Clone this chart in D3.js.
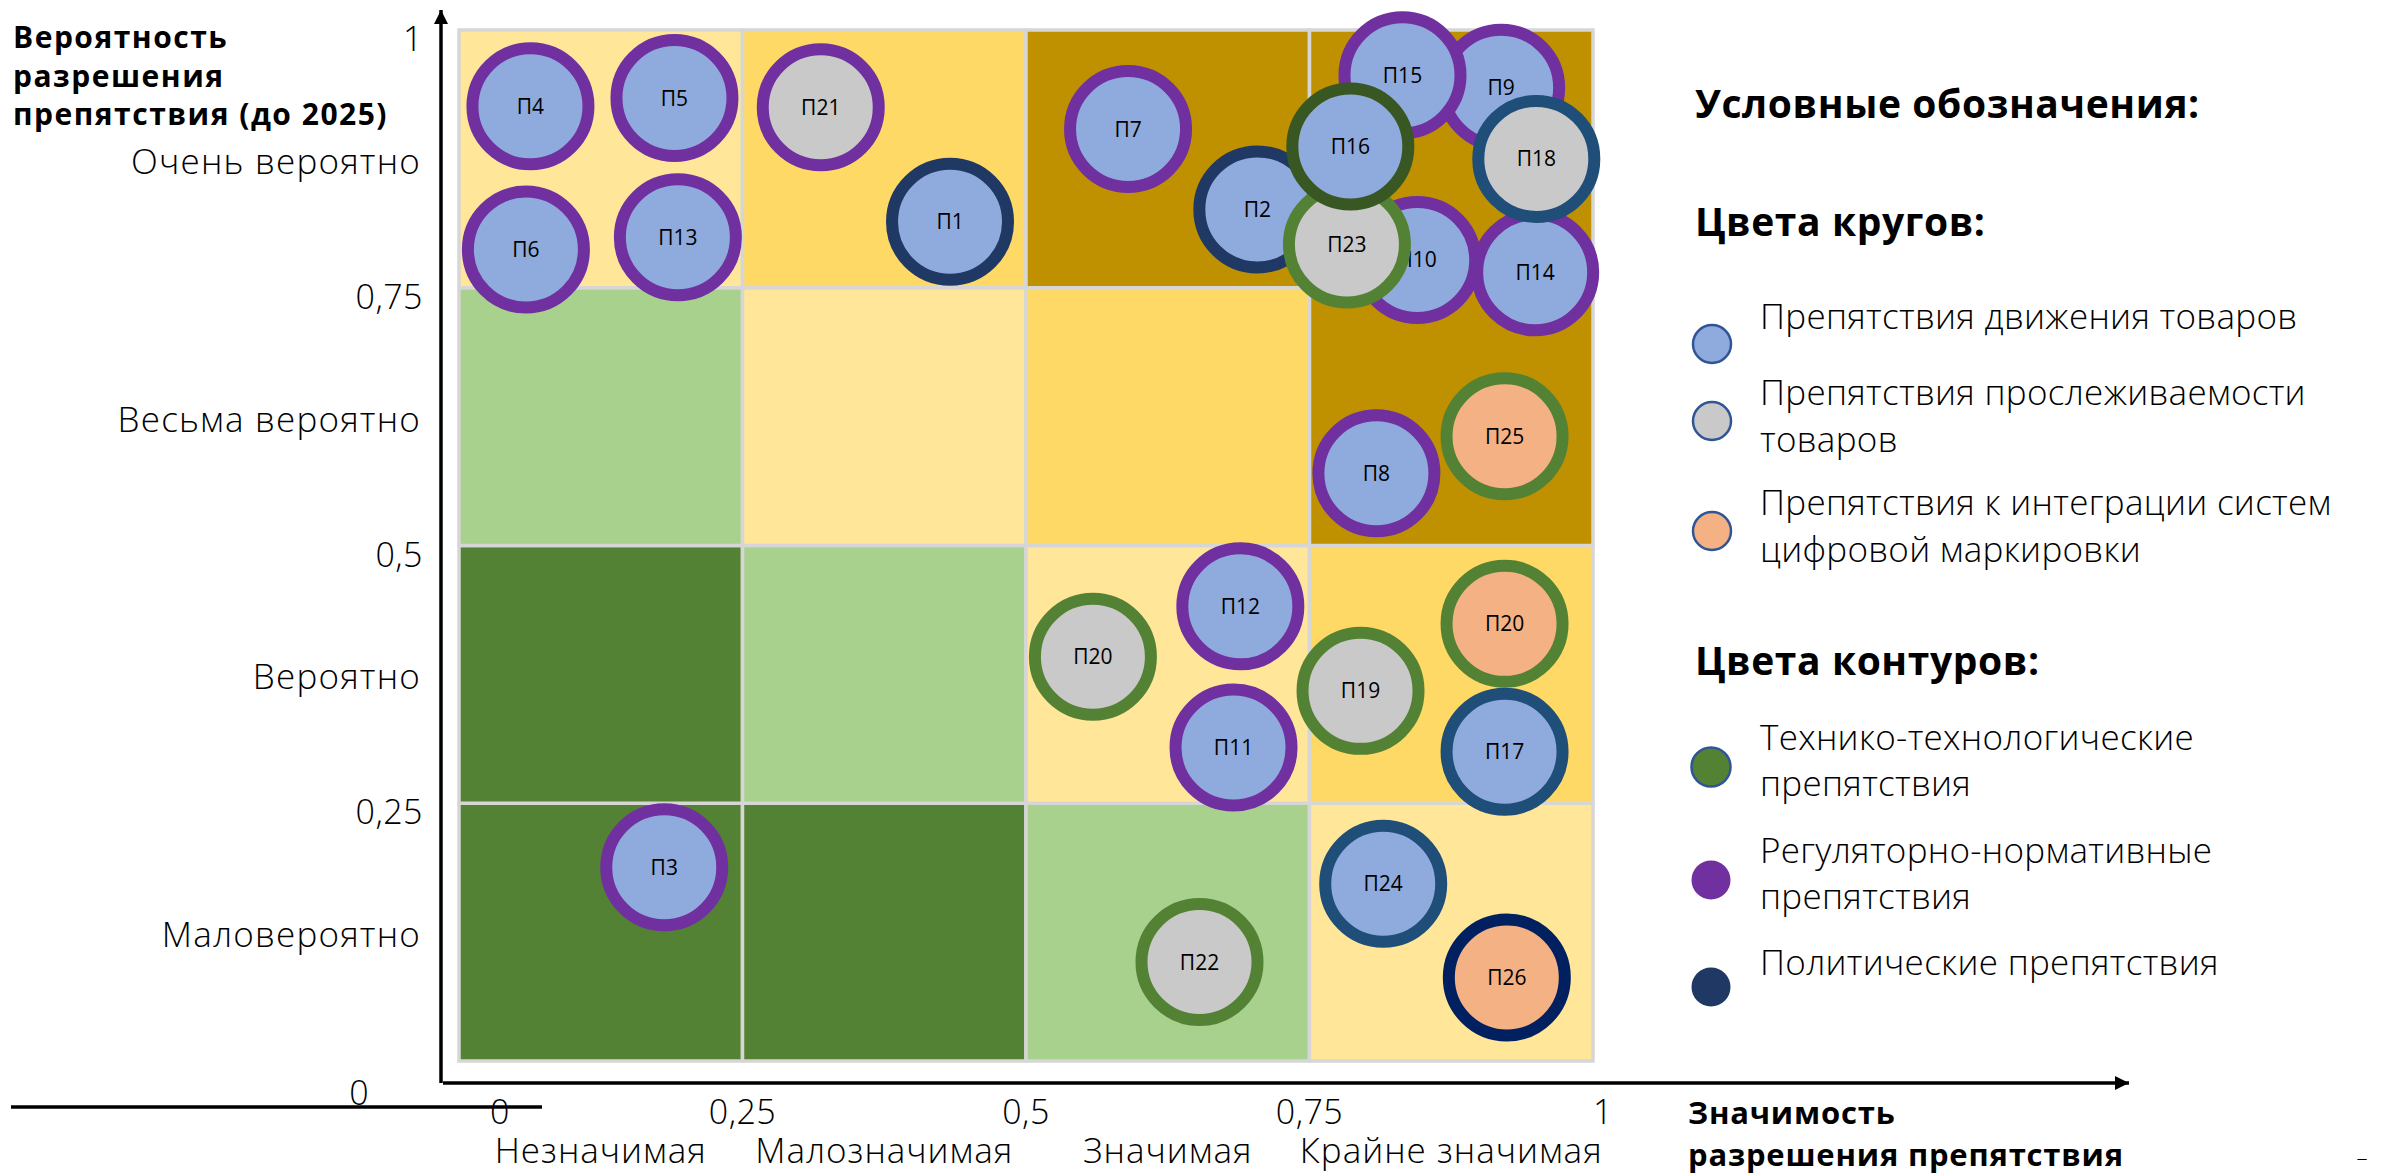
<!DOCTYPE html>
<html lang="ru">
<head>
<meta charset="utf-8">
<script src="https://cdn.jsdelivr.net/npm/d3@7"></script>
<style>
  html, body { margin: 0; padding: 0; background: #fff; }
  svg { display: block; }
  .thin { font-family: "Open Sans", "Lato", sans-serif; font-weight: 300; fill: #000; }
  .bold { font-family: "Open Sans", "Noto Sans", sans-serif; font-weight: 700; fill: #000; }
  .dot-label { font-family: "Open Sans", sans-serif; font-size: 21px; fill: #000; }
</style>
</head>
<body>
<svg id="chart" width="2381" height="1173"></svg>
<script>
// --- data ---
const rowLabels = ["Маловероятно", "Вероятно", "Весьма вероятно", "Очень вероятно"];
const colLabels = ["Незначимая", "Малозначимая", "Значимая", "Крайне значимая"];
const tickValues = [0, 0.25, 0.5, 0.75, 1];

// cell zone per row (bottom -> top), per column (left -> right)
const zones = [
  ["dg", "dg", "lg", "ly"],
  ["dg", "lg", "ly", "yl"],
  ["lg", "ly", "yl", "gd"],
  ["ly", "yl", "gd", "gd"]
];

// obstacles, in drawing order
const ids          = ["П4", "П5", "П6", "П13", "П21", "П1", "П7", "П2", "П10", "П23", "П9", "П15", "П16", "П14", "П18",
                      "П8", "П25", "П12", "П20", "П11", "П19", "П20", "П17", "П3", "П22", "П24", "П26"];
const significance = [0.063, 0.190, 0.059, 0.193, 0.319, 0.433, 0.590, 0.704, 0.845, 0.783, 0.919, 0.832, 0.786, 0.949, 0.950,
                      0.809, 0.922, 0.689, 0.559, 0.683, 0.795, 0.922, 0.922, 0.181, 0.653, 0.815, 0.924];
const probability  = [0.926, 0.934, 0.787, 0.799, 0.925, 0.814, 0.904, 0.826, 0.777, 0.792, 0.944, 0.956, 0.887, 0.765, 0.875,
                      0.570, 0.606, 0.441, 0.392, 0.304, 0.359, 0.424, 0.300, 0.188, 0.096, 0.172, 0.081];
const fillType     = ["move", "move", "move", "move", "trace", "move", "move", "move", "move", "trace", "move", "move", "move", "move", "trace",
                      "move", "integ", "move", "trace", "move", "trace", "integ", "move", "move", "trace", "move", "integ"];
const outlineType  = ["reg", "reg", "reg", "reg", "reg", "pol", "reg", "pol", "reg", "tech", "reg", "reg", "techDark", "reg", "polBlue",
                      "reg", "tech", "reg", "tech", "reg", "tech", "tech", "polBlue", "reg", "tech", "polBlue", "polNavy"];

const fillLegend = [
  { key: "move",  lines: ["Препятствия движения товаров"] },
  { key: "trace", lines: ["Препятствия прослеживаемости", "товаров"] },
  { key: "integ", lines: ["Препятствия к интеграции систем", "цифровой маркировки"] }
];
const outlineLegend = [
  { key: "tech", lines: ["Технико-технологические", "препятствия"] },
  { key: "reg",  lines: ["Регуляторно-нормативные", "препятствия"] },
  { key: "pol",  lines: ["Политические препятствия"] }
];

// --- styles ---
const zoneColor = { dg: "#548235", lg: "#A9D18E", ly: "#FFE699", yl: "#FFD966", gd: "#BF9000" };
const fillColor = { move: "#8FAADC", trace: "#C9C9C9", integ: "#F4B183" };
const outlineColor = {
  reg: "#7030A0", pol: "#203864", tech: "#548235",
  techDark: "#385723", polBlue: "#1F4E79", polNavy: "#002060"
};

const svg = d3.select("#chart");

const x = d3.scaleLinear().domain([0, 1]).range([459, 1593]);
const y = d3.scaleLinear().domain([0, 1]).range([1061, 30]);
const fmt = d => String(d).replace(".", ",");

// arrow marker
svg.append("defs").append("marker")
  .attr("id", "arrow")
  .attr("viewBox", "0 0 10 10")
  .attr("refX", 10).attr("refY", 5)
  .attr("markerWidth", 4).attr("markerHeight", 4.2)
  .attr("markerUnits", "strokeWidth")
  .attr("orient", "auto")
  .append("path").attr("d", "M0,0L10,5L0,10Z").attr("fill", "#000");

// --- cells ---
const cells = [];
zones.forEach((row, r) => row.forEach((z, c) => cells.push({ r, c, z })));

svg.append("g")
  .selectAll("rect")
  .data(cells)
  .join("rect")
  .attr("x", d => x(d.c / 4))
  .attr("y", d => y((d.r + 1) / 4))
  .attr("width", d => x((d.c + 1) / 4) - x(d.c / 4))
  .attr("height", d => y(d.r / 4) - y((d.r + 1) / 4))
  .attr("fill", d => zoneColor[d.z])
  .attr("stroke", "#D6D6D6")
  .attr("stroke-width", 3.5);

// --- axes ---
svg.append("line")
  .attr("x1", x(0) - 18).attr("y1", y(0) + 22)
  .attr("x2", x(0) - 18).attr("y2", 10)
  .attr("stroke", "#000").attr("stroke-width", 3.5)
  .attr("marker-end", "url(#arrow)");

svg.append("line")
  .attr("x1", x(0) - 16).attr("y1", y(0) + 22)
  .attr("x2", 2129).attr("y2", y(0) + 22)
  .attr("stroke", "#000").attr("stroke-width", 3.5)
  .attr("marker-end", "url(#arrow)");

// stray baseline under the "0"
svg.append("line")
  .attr("x1", 11).attr("x2", 542)
  .attr("y1", y(0) + 46).attr("y2", y(0) + 46)
  .attr("stroke", "#000").attr("stroke-width", 3.5);

// y ticks
svg.append("g")
  .selectAll("text")
  .data(tickValues.filter(d => d > 0))
  .join("text")
  .attr("class", "thin")
  .attr("x", 423)
  .attr("y", d => y(d) + 21)
  .attr("text-anchor", "end")
  .attr("font-size", 34)
  .attr("letter-spacing", 0.5)
  .text(fmt);

svg.append("text")
  .attr("class", "thin")
  .attr("x", 359).attr("y", y(0) + 44)
  .attr("text-anchor", "middle")
  .attr("font-size", 34)
  .text("0");

// row labels
svg.append("g")
  .selectAll("text")
  .data(rowLabels)
  .join("text")
  .attr("class", "thin")
  .attr("x", 421)
  .attr("y", (d, i) => y((i + 0.5) / 4) + 15)
  .attr("text-anchor", "end")
  .attr("font-size", 35)
  .attr("letter-spacing", 1.2)
  .text(d => d);

// x ticks
svg.append("g")
  .selectAll("text")
  .data(tickValues)
  .join("text")
  .attr("class", "thin")
  .attr("x", d => x(d) + (d === 0 ? 41 : d === 1 ? 10 : 0))
  .attr("y", y(0) + 63)
  .attr("text-anchor", "middle")
  .attr("font-size", 34)
  .attr("letter-spacing", 0.5)
  .text(fmt);

// column labels
svg.append("g")
  .selectAll("text")
  .data(colLabels)
  .join("text")
  .attr("class", "thin")
  .attr("x", (d, i) => x((i + 0.5) / 4))
  .attr("y", y(0) + 102)
  .attr("text-anchor", "middle")
  .attr("font-size", 35)
  .attr("letter-spacing", 1)
  .text(d => d);

// axis titles
const yTitle = svg.append("text").attr("class", "bold").attr("font-size", 30).attr("letter-spacing", 1.5);
["Вероятность", "разрешения", "препятствия (до 2025)"].forEach((t, i) =>
  yTitle.append("tspan").attr("x", 13).attr("y", 48 + i * 38.5).text(t));

const xTitle = svg.append("text").attr("class", "bold").attr("font-size", 31).attr("letter-spacing", 0.8);
["Значимость", "разрешения препятствия"].forEach((t, i) =>
  xTitle.append("tspan").attr("x", 1688).attr("y", 1124 + i * 42).text(t));

// --- obstacles ---
const points = ids.map((id, i) => ({
  id, sx: significance[i], py: probability[i], fill: fillType[i], outline: outlineType[i]
}));

const dots = svg.append("g")
  .selectAll("g")
  .data(points)
  .join("g")
  .attr("transform", d => `translate(${x(d.sx)},${y(d.py)})`);

dots.append("circle")
  .attr("r", 58)
  .attr("fill", d => fillColor[d.fill])
  .attr("stroke", d => outlineColor[d.outline])
  .attr("stroke-width", 12);

dots.append("text")
  .attr("class", "dot-label")
  .attr("text-anchor", "middle")
  .attr("dy", "0.36em")
  .text(d => d.id);

// --- legend ---
const lg = svg.append("g");

[["Условные обозначения:", 118], ["Цвета кругов:", 236], ["Цвета контуров:", 675]].forEach(([t, ty]) =>
  lg.append("text").attr("class", "bold").attr("font-size", 39).attr("letter-spacing", 0.6)
    .attr("x", 1695).attr("y", ty).text(t));

const fillTops = [329, 405, 515];
const fillItems = lg.append("g")
  .selectAll("g")
  .data(fillLegend)
  .join("g");

fillItems.append("circle")
  .attr("cx", 1712)
  .attr("cy", (d, i) => fillTops[i] + (d.lines.length > 1 ? 16 : 15))
  .attr("r", 19)
  .attr("fill", d => fillColor[d.key])
  .attr("stroke", "#2F5597")
  .attr("stroke-width", 2.5);

fillItems.append("text")
  .attr("class", "thin")
  .attr("font-size", 35)
  .attr("letter-spacing", 0.3)
  .each(function (d, i) {
    d3.select(this).selectAll("tspan")
      .data(d.lines)
      .join("tspan")
      .attr("x", 1760)
      .attr("y", (t, j) => fillTops[i] + j * 47)
      .text(t => t);
  });

const outlineTops = [750, 863, 975];
const outlineItems = lg.append("g")
  .selectAll("g")
  .data(outlineLegend)
  .join("g");

outlineItems.append("circle")
  .attr("cx", 1711)
  .attr("cy", (d, i) => outlineTops[i] + (d.lines.length > 1 ? 17 : 12))
  .attr("r", 19.5)
  .attr("fill", d => outlineColor[d.key])
  .attr("stroke", d => d.key === "tech" ? "#2F5597" : "none")
  .attr("stroke-width", 2.5);

outlineItems.append("text")
  .attr("class", "thin")
  .attr("font-size", 35)
  .attr("letter-spacing", 0.3)
  .each(function (d, i) {
    d3.select(this).selectAll("tspan")
      .data(d.lines)
      .join("tspan")
      .attr("x", 1760)
      .attr("y", (t, j) => outlineTops[i] + j * 46)
      .text(t => t);
  });

// small dash in the corner
svg.append("text").attr("class", "thin").attr("font-size", 22)
  .attr("x", 2362).attr("y", 1166).attr("text-anchor", "middle").text("–");
</script>
</body>
</html>
